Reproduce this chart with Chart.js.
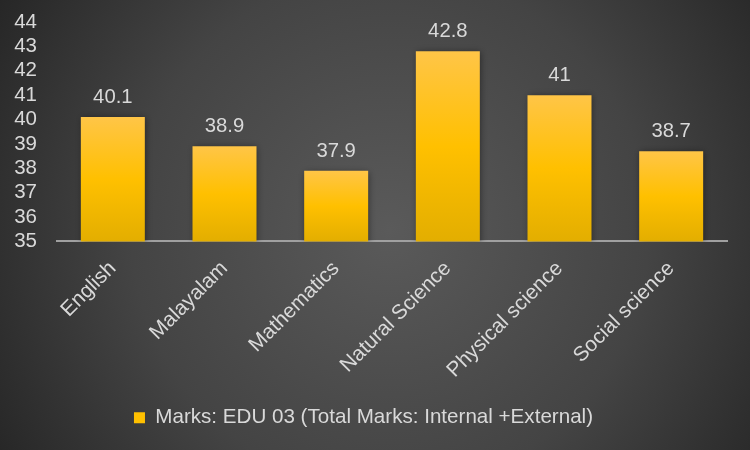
<!DOCTYPE html>
<html>
<head>
<meta charset="utf-8">
<script src="https://cdn.jsdelivr.net/npm/chart.js@4.4.0/dist/chart.umd.min.js"></script>
<style>
  html, body { margin: 0; padding: 0; background: #3a3a3a; }
  #wrap { width: 750px; height: 450px; }
</style>
</head>
<body>
<div id="wrap"><canvas id="c" width="750" height="450"></canvas></div>
<script>
const categories = ["English", "Malayalam", "Mathematics", "Natural Science", "Physical science", "Social science"];
const marks = [40.1, 38.9, 37.9, 42.8, 41, 38.7];
const seriesLabel = "Marks: EDU 03 (Total Marks: Internal +External)";
const yMin = 35, yMax = 44, yStep = 1;

const TEXT = '#d9d9d9';
const FONT = "'Liberation Sans', Arial, sans-serif";

const bgPlugin = {
  id: 'bg',
  beforeDraw(chart) {
    const ctx = chart.ctx;
    const w = chart.width, h = chart.height;
    ctx.save();
    const g = ctx.createRadialGradient(390, 230, 0, 390, 230, 470);
    g.addColorStop(0, '#5a5a5a');
    g.addColorStop(0.55, '#444444');
    g.addColorStop(1, '#242424');
    ctx.fillStyle = g;
    ctx.fillRect(0, 0, w, h);
    ctx.restore();
  }
};

const shadowPlugin = {
  id: 'barShadow',
  beforeDatasetsDraw(chart) {
    const ctx = chart.ctx;
    ctx.save();
    ctx.shadowColor = 'rgba(0,0,0,0.45)';
    ctx.shadowBlur = 7;
    ctx.shadowOffsetX = 1;
    ctx.shadowOffsetY = 1;
  },
  afterDatasetsDraw(chart) {
    chart.ctx.restore();
  }
};

const labelPlugin = {
  id: 'valueLabels',
  afterDatasetsDraw(chart) {
    const ctx = chart.ctx;
    ctx.save();
    ctx.shadowColor = 'transparent';
    ctx.fillStyle = TEXT;
    ctx.font = "20.3px " + FONT;
    ctx.textAlign = 'center';
    ctx.textBaseline = 'alphabetic';
    chart.getDatasetMeta(0).data.forEach((el, i) => {
      ctx.fillText(String(chart.data.datasets[0].data[i]), el.x, el.y - 14);
    });
    ctx.restore();
  }
};

function barFill(context) {
  const chart = context.chart;
  if (!chart.chartArea || context.type !== 'data') return '#FFC000';
  const ys = chart.scales.y;
  const top = ys.getPixelForValue(context.raw);
  const bottom = ys.getPixelForValue(ys.min);
  if (!isFinite(top) || !isFinite(bottom) || bottom - top < 1) return '#FFC000';
  const g = chart.ctx.createLinearGradient(0, top, 0, bottom);
  g.addColorStop(0, '#FFC547');
  g.addColorStop(0.5, '#FFC000');
  g.addColorStop(1, '#E3AE00');
  return g;
}

new Chart(document.getElementById('c'), {
  type: 'bar',
  data: {
    labels: categories,
    datasets: [{
      label: seriesLabel,
      data: marks,
      backgroundColor: barFill,
      borderWidth: 0,
      categoryPercentage: 1.0,
      barPercentage: 0.573
    }]
  },
  options: {
    responsive: false,
    animation: false,
    devicePixelRatio: 1,
    layout: { padding: { top: 22, left: 0, right: 23, bottom: 12 } },
    plugins: {
      tooltip: { enabled: false },
      legend: {
        position: 'bottom',
        labels: {
          color: TEXT,
          font: { family: FONT, size: 20.6 },
          boxWidth: 11,
          boxHeight: 11,
          padding: 10,
          generateLabels(chart) {
            return [{
              text: seriesLabel,
              fillStyle: '#FFC000',
              strokeStyle: '#FFC000',
              lineWidth: 0,
              hidden: false,
              datasetIndex: 0,
              fontColor: TEXT
            }];
          }
        }
      }
    },
    scales: {
      x: {
        grid: { display: false, drawTicks: false },
        border: { display: true, color: '#a0a0a0', width: 2 },
        ticks: {
          color: TEXT,
          font: { family: FONT, size: 20.8 },
          minRotation: 45,
          maxRotation: 45,
          autoSkip: false,
          padding: 15
        },
        afterFit(scale) { scale.height = 156; scale.paddingTop = 0; }
      },
      y: {
        min: yMin,
        max: yMax,
        grid: { display: false, drawTicks: false },
        border: { display: false },
        ticks: {
          stepSize: yStep,
          autoSkip: false,
          color: TEXT,
          font: { family: FONT, size: 20.5 },
          padding: 20
        },
        afterFit(scale) { scale.width = 57; scale.paddingTop = 0; scale.paddingBottom = 0; }
      }
    }
  },
  plugins: [bgPlugin, shadowPlugin, labelPlugin]
});
</script>
</body>
</html>
